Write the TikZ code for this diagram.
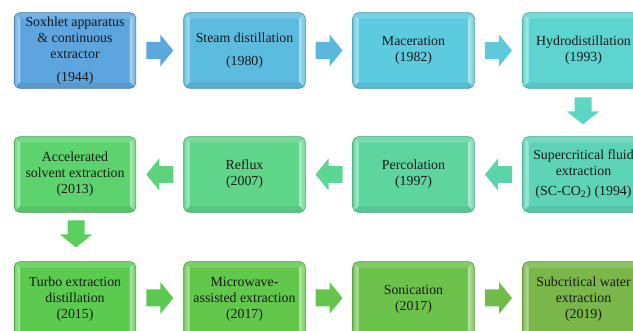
\documentclass[tikz,border=0pt]{standalone}
\usepackage{fontspec}
\setmainfont{Liberation Serif}
\usetikzlibrary{calc,backgrounds}
\definecolor{b1}{HTML}{5DA5DE}
\definecolor{b2}{HTML}{5BBCE0}
\definecolor{b3}{HTML}{5CCADF}
\definecolor{b4}{HTML}{5CD5D0}
\definecolor{b5}{HTML}{5CD4B5}
\definecolor{b6}{HTML}{5ED59F}
\definecolor{b7}{HTML}{5FD58A}
\definecolor{b8}{HTML}{5DD36E}
\definecolor{b9}{HTML}{5BCB50}
\definecolor{b10}{HTML}{62C84C}
\definecolor{b11}{HTML}{6DC24B}
\definecolor{b12}{HTML}{7AB64A}
\definecolor{a1}{HTML}{5AA8DC}
\definecolor{a2}{HTML}{5AB8DE}
\definecolor{a3}{HTML}{5CCADA}
\definecolor{a4}{HTML}{5CD5C5}
\definecolor{a5}{HTML}{5CD4AA}
\definecolor{a6}{HTML}{5DD594}
\definecolor{a7}{HTML}{5DD37C}
\definecolor{a8}{HTML}{5ACF5E}
\definecolor{a9}{HTML}{5BC94F}
\definecolor{a10}{HTML}{63C54C}
\definecolor{a11}{HTML}{72BC4B}
\newcommand\bevelbox[2]{%
  \begin{scope}
    \clip[rounded corners=4pt] (#1.north west) rectangle (#1.south east);
    \fill[#2] (#1.north west) rectangle (#1.south east);
    \fill[#2!85!white] (#1.north west) -- (#1.north east) -- ($(#1.north east)+(-6,6)$) -- ($(#1.north west)+(6,6)$) -- cycle;
    \shade[left color=#2!90!white, right color=#2!45!white] (#1.north west) -- ($(#1.north west)+(6,6)$) -- ($(#1.south west)+(6,-6)$) -- (#1.south west) -- cycle;
    \shade[left color=#2!50!white, right color=#2!90!white] (#1.north east) -- ($(#1.north east)+(-6,6)$) -- ($(#1.south east)+(-6,-6)$) -- (#1.south east) -- cycle;
    \fill[#2!93!black] (#1.south west) -- ($(#1.south west)+(6,-6)$) -- ($(#1.south east)+(-6,-6)$) -- (#1.south east) -- cycle;
  \end{scope}
  \draw[#2!75!black, line width=0.4pt, rounded corners=4pt] (#1.north west) rectangle (#1.south east);
}
\begin{document}
\begin{tikzpicture}[x=0.75pt, y=-0.75pt,
  box/.style={minimum width=90.75pt, minimum height=56.25pt, inner sep=0pt,
    align=center, font=\fontsize{10.4}{12}\selectfont, text=black!90},
  blockarr/.pic={\fill[pic actions] (-13.5,-8.5) -- (0.5,-8.5) -- (0.5,-16) -- (13.5,0) -- (0.5,16) -- (0.5,8.5) -- (-13.5,8.5) -- cycle;}]
\useasboundingbox (0,0) rectangle (633,331);
\clip (0,0) rectangle (633,331);
% row 1
\node[box] (n1) at (75,50.5) {Soxhlet apparatus\\ \& continuous\\ extractor\\[5pt] (1944)};
\node[box] (n2) at (244.5,50.5) {Steam distillation\\[5pt] (1980)};
\node[box] (n3) at (413.5,50.5) {Maceration\\ (1982)};
\node[box] (n4) at (583.5,50.5) {Hydrodistillation\\ (1993)};
% row 2
\node[box] (n5) at (583.5,174.5) {Supercritical fluid\\ extraction\\[3pt] (SC-CO\textsubscript{2}) (1994)};
\node[box] (n6) at (413.5,174.5) {Percolation\\ (1997)};
\node[box] (n7) at (244.5,174.5) {Reflux\\ (2007)};
\node[box] (n8) at (75,174.5) {Accelerated\\ solvent extraction\\ (2013)};
% row 3
\node[box] (n9) at (75,299.5) {Turbo extraction\\ distillation\\ (2015)};
\node[box] (n10) at (244.5,299.5) {Microwave-\\ assisted extraction\\ (2017)};
\node[box] (n11) at (413.5,299.5) {Sonication\\ (2017)};
\node[box] (n12) at (583.5,299.5) {Subcritical water\\ extraction\\ (2019)};
\begin{scope}[on background layer]
  \bevelbox{n1}{b1}\bevelbox{n2}{b2}\bevelbox{n3}{b3}\bevelbox{n4}{b4}
  \bevelbox{n5}{b5}\bevelbox{n6}{b6}\bevelbox{n7}{b7}\bevelbox{n8}{b8}
  \bevelbox{n9}{b9}\bevelbox{n10}{b10}\bevelbox{n11}{b11}\bevelbox{n12}{b12}
\end{scope}
% arrows
\pic[fill=a1] at ($(n1.east)!0.5!(n2.west)$) {blockarr};
\pic[fill=a2] at ($(n2.east)!0.5!(n3.west)$) {blockarr};
\pic[fill=a3] at ($(n3.east)!0.5!(n4.west)$) {blockarr};
\pic[fill=a4, rotate=-90] at ($(n4.south)!0.5!(n5.north)+(-0.5,-1.5)$) {blockarr};
\pic[fill=a5, rotate=180] at ($(n5.west)!0.5!(n6.east)$) {blockarr};
\pic[fill=a6, rotate=180] at ($(n6.west)!0.5!(n7.east)$) {blockarr};
\pic[fill=a7, rotate=180] at ($(n7.west)!0.5!(n8.east)$) {blockarr};
\pic[fill=a8, rotate=-90] at ($(n8.south)!0.5!(n9.north)+(1,-3)$) {blockarr};
\pic[fill=a9] at ($(n9.east)!0.5!(n10.west)+(0,-1.5)$) {blockarr};
\pic[fill=a10] at ($(n10.east)!0.5!(n11.west)+(0,-1.5)$) {blockarr};
\pic[fill=a11] at ($(n11.east)!0.5!(n12.west)+(0,-1.5)$) {blockarr};
\end{tikzpicture}
\end{document}
